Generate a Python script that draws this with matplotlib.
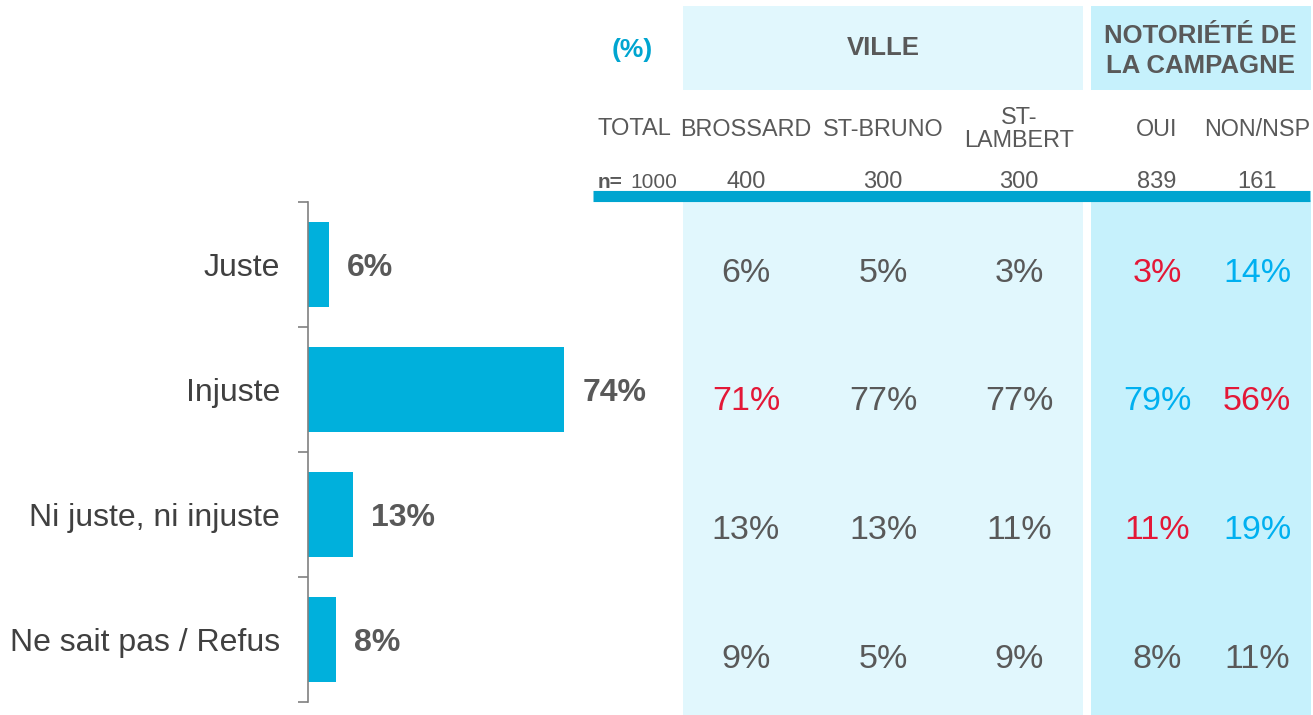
import matplotlib
matplotlib.use('Agg')
from matplotlib import pyplot as plt
from matplotlib.patches import Rectangle

plt.rcParams['font.family'] = ['Liberation Sans', 'DejaVu Sans']

# Data
categories = ['Juste', 'Injuste', 'Ni juste, ni injuste', 'Ne sait pas / Refus']
total = [6, 74, 13, 8]

columns = ['BROSSARD', 'ST-BRUNO', 'ST-\nLAMBERT', 'OUI', 'NON/NSP']
n_values = ['400', '300', '300', '839', '161']
n_total = '1000'
table = [
    [6, 5, 3, 3, 14],
    [71, 77, 77, 79, 56],
    [13, 13, 11, 11, 19],
    [9, 5, 9, 8, 11],
]
# 'r' = significantly lower, 'b' = significantly higher, '' = neutral
signif = [
    ['', '', '', 'r', 'b'],
    ['r', '', '', 'b', 'r'],
    ['', '', '', 'r', 'b'],
    ['', '', '', '', ''],
]

grey = '#595959'
bar_col = '#00B0DC'
sig_colors = {'': grey, 'r': '#E31837', 'b': '#00B0F0'}

W, H = 1313, 715
fig = plt.figure(figsize=(W / 100, H / 100), dpi=100)

# Background layer in pixel coordinates for panels and table
bg = fig.add_axes([0, 0, 1, 1])
bg.set_xlim(0, W)
bg.set_ylim(H, 0)
bg.axis('off')

light = '#E1F7FD'
dark = '#C6F1FC'
bg.add_patch(Rectangle((683, 6), 400, 84, color=light, lw=0))
bg.add_patch(Rectangle((1091, 6), 220, 84, color=dark, lw=0))
bg.add_patch(Rectangle((683, 200), 400, 515, color=light, lw=0))
bg.add_patch(Rectangle((1091, 200), 220, 515, color=dark, lw=0))

bg.text(632, 50, '(%)', color='#00A5D0', fontsize=19, fontweight='bold',
        ha='center', va='center')
bg.text(883, 48, 'VILLE', color=grey, fontsize=18.5, fontweight='bold',
        ha='center', va='center')
bg.text(1200, 51, 'NOTORIÉTÉ DE\nLA CAMPAGNE', color=grey, fontsize=18.5,
        fontweight='bold', ha='center', va='center', linespacing=1.3)

col_x = [746, 883, 1019, 1157, 1257]
bg.text(634, 129, 'TOTAL', color=grey, fontsize=17, ha='center', va='center')
for x, c in zip(col_x, columns):
    bg.text(x, 129, c, color=grey, fontsize=16.8, ha='center', va='center',
            linespacing=1.05)

bg.text(598, 182, 'n=', color=grey, fontsize=15, fontweight='bold',
        ha='left', va='center')
bg.text(677, 182, n_total, color=grey, fontsize=15, ha='right', va='center')
for x, n in zip(col_x, n_values):
    bg.text(x, 182, n, color=grey, fontsize=17, ha='center', va='center')

bg.plot([593, 1310], [196, 196], color='#00A5D0', lw=8, solid_capstyle='butt')

row_y = [270, 398, 527, 656]
for y, vals, sig in zip(row_y, table, signif):
    for x, v, s in zip(col_x, vals, sig):
        bg.text(x, y, f'{v}%', color=sig_colors[s], fontsize=24.5,
                ha='center', va='center_baseline')

# Bar chart
ax = fig.add_axes([308 / W, 1 - 702 / H, 346 / W, 500 / H])
ax.set_facecolor('none')
ypos = list(range(len(categories)))
ax.barh(ypos, total, height=0.68, color=bar_col)
ax.set_xlim(0, 100)
ax.set_ylim(len(categories) - 0.5, -0.5)
for y, v in zip(ypos, total):
    ax.text(v + 5.3, y, f'{v}%', color=grey, fontsize=23, fontweight='bold',
            ha='left', va='center_baseline')

for side in ['top', 'right', 'bottom']:
    ax.spines[side].set_visible(False)
ax.spines['left'].set_color('#808080')
ax.spines['left'].set_linewidth(1.2)
ax.set_xticks([])
ax.set_yticks([i - 0.5 for i in range(len(categories) + 1)])
ax.set_yticklabels([])
ax.tick_params(axis='y', which='major', length=7, width=1.2, color='#808080')
ax.set_yticks(ypos, minor=True)
ax.set_yticklabels(categories, minor=True, fontsize=23, color='#404040')
ax.tick_params(axis='y', which='minor', length=0, pad=20)

fig.savefig('out.png', dpi=100)
